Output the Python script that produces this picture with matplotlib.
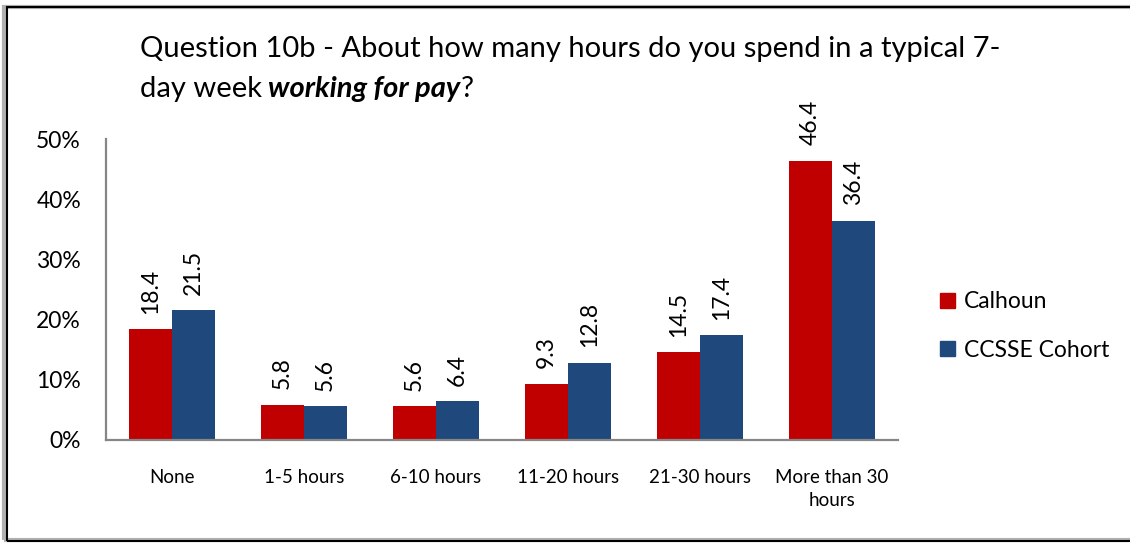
import matplotlib
matplotlib.use("Agg")
import matplotlib.pyplot as plt
import numpy as np
from matplotlib.patches import Patch, Rectangle

plt.rcParams['font.family'] = ['Lato', 'DejaVu Sans']

# chart data
categories = ['None', '1-5 hours', '6-10 hours', '11-20 hours', '21-30 hours', 'More than 30\nhours']
calhoun = [18.4, 5.8, 5.6, 9.3, 14.5, 46.4]
ccsse = [21.5, 5.6, 6.4, 12.8, 17.4, 36.4]
series_names = ['Calhoun', 'CCSSE Cohort']
yticks = [0, 10, 20, 30, 40, 50]

red = '#C00000'
blue = '#1F497D'
W, H = 1130, 544

fig = plt.figure(figsize=(W / 100, H / 100), dpi=100)
ax = fig.add_axes([106 / W, 1 - 439.5 / H, 792 / W, 300.5 / H])

x = np.arange(len(categories))
bw = 0.326
b1 = ax.bar(x - bw / 2, calhoun, bw, color=red, label=series_names[0])
b2 = ax.bar(x + bw / 2, ccsse, bw, color=blue, label=series_names[1])

# rotated value labels
for bars, vals in ((b1, calhoun), (b2, ccsse)):
    for rect, v in zip(bars, vals):
        ax.annotate(f'{v:.1f}', xy=(rect.get_x() + rect.get_width() / 2, v),
                    xytext=(0, 11), textcoords='offset points',
                    rotation=90, ha='center', va='bottom', fontsize=16.5)

ax.set_xlim(-0.5, len(categories) - 0.5)
ax.set_ylim(0, 50)
ax.set_yticks(yticks)
ax.set_yticklabels([f'{t}%' for t in yticks])
ax.set_xticks(x)
ax.set_xticklabels(categories, fontsize=13.5, linespacing=1.45)
ax.tick_params(axis='y', length=0, pad=18, labelsize=16.5)
ax.tick_params(axis='x', length=0, pad=21)

for s in ('top', 'right'):
    ax.spines[s].set_visible(False)
for s in ('left', 'bottom'):
    ax.spines[s].set_color('#868686')
    ax.spines[s].set_linewidth(1.6)

# legend
handles = [Patch(color=red), Patch(color=blue)]
fig.legend(handles, series_names, loc='center left',
           bbox_to_anchor=(940 / W, 1 - 326 / H), frameon=False,
           fontsize=16.5, handlelength=0.65, handleheight=0.65,
           handletextpad=0.4, labelspacing=1.2, borderaxespad=0, borderpad=0)

# title, second line has a bold italic part
ts = 21
fig.text(140 / W, 1 - 57 / H,
         'Question 10b - About how many hours do you spend in a typical 7-',
         fontsize=ts, va='baseline', ha='left')
t1 = fig.text(140 / W, 1 - 97 / H, 'day week', fontsize=ts, va='baseline', ha='left')
t2 = fig.text(0, 0, 'working for pay', fontsize=ts, fontweight='bold', fontstyle='italic')
t3 = fig.text(0, 0, '?', fontsize=ts)
fig.canvas.draw()
r = fig.canvas.get_renderer()
bb1 = t1.get_window_extent(r)
t2.set_position(((bb1.x1 + 6) / W, 1 - 97 / H))
t2.set_va('baseline')
bb2 = t2.get_window_extent(r)
t3.set_position(((bb2.x1 + 1) / W, 1 - 97 / H))
t3.set_va('baseline')

# outer frame
fig.patches.append(Rectangle((4 / W, 4 / H), 1.1, 1 - 11 / H, transform=fig.transFigure,
                             fill=False, edgecolor='#b0b0b0', linewidth=3))
fig.patches.append(Rectangle((6.5 / W, 3 / H), 1.1, 1 - 10 / H, transform=fig.transFigure,
                             fill=False, edgecolor='black', linewidth=1.5))

fig.savefig('out.png', dpi=100)
